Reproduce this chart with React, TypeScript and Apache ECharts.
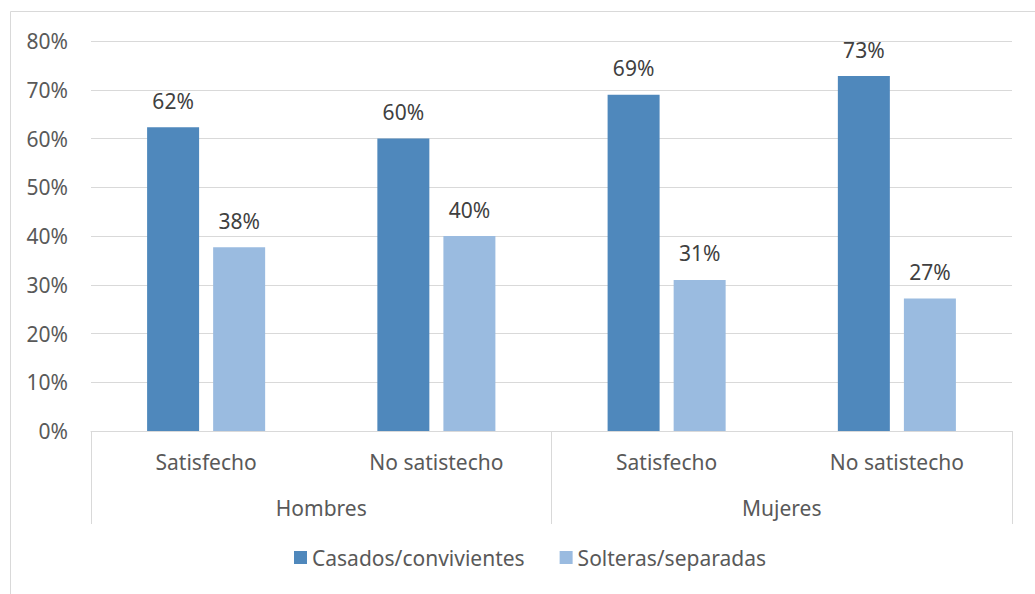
import React, { useEffect, useRef } from "react";
import * as echarts from "echarts";

const subCategories = ["Satisfecho", "No satistecho", "Satisfecho", "No satistecho"];
const groups = ["Hombres", "Mujeres"];
const casados = [62.3, 60.0, 69.0, 72.8];
const solteras = [37.7, 40.0, 31.0, 27.2];
const seriesNames = ["Casados/convivientes", "Solteras/separadas"];

export default function App() {
  const ref = useRef<HTMLDivElement>(null);
  useEffect(() => {
    if (!ref.current) return;
    const chart = echarts.init(ref.current, null, { renderer: "svg" });
    const font = "'Noto Sans', sans-serif";
    const grey = "#d9d9d9";
    const fs = 21;
    const labelOpt = {
      show: true,
      position: "top",
      distance: 16,
      color: "#404040",
      fontSize: fs,
      fontFamily: font,
      formatter: (p: any) => Math.round(p.value) + "%",
    };
    chart.setOption({
      animation: false,
      textStyle: { fontFamily: font },
      graphic: [
        {
          type: "rect",
          shape: { x: 10.5, y: 11.5, width: 1100, height: 700 },
          style: { fill: "none", stroke: grey, lineWidth: 1 },
          silent: true,
        },
      ],
      grid: { left: 91, right: 23, top: 41, bottom: 163 },
      legend: {
        left: 294,
        top: 547,
        padding: 0,
        itemWidth: 13,
        itemHeight: 13,
        itemGap: 35,
        icon: "rect",
        textStyle: { fontSize: fs, color: "#595959", fontFamily: font },
        data: seriesNames,
      },
      xAxis: [
        {
          type: "category",
          data: subCategories,
          axisLine: { show: true, lineStyle: { color: grey, width: 1 } },
          axisTick: { show: false },
          axisLabel: { margin: 20, fontSize: fs, color: "#595959", fontFamily: font, interval: 0 },
        },
        {
          type: "category",
          data: groups,
          position: "bottom",
          axisLine: { show: false },
          axisTick: { show: true, length: 93, interval: 0, lineStyle: { color: grey, width: 1 } },
          axisLabel: { margin: 66, fontSize: fs, color: "#595959", fontFamily: font, interval: 0 },
        },
      ],
      yAxis: {
        type: "value",
        min: 0,
        max: 80,
        interval: 10,
        axisLine: { show: false },
        axisTick: { show: false },
        splitLine: { lineStyle: { color: grey, width: 1 } },
        axisLabel: { formatter: "{value}%", margin: 23, fontSize: fs, color: "#595959", fontFamily: font },
      },
      series: [
        {
          name: seriesNames[0],
          type: "bar",
          xAxisIndex: 0,
          data: casados,
          barWidth: 52,
          barGap: "27%",
          itemStyle: { color: "#4f88bc" },
          label: labelOpt,
        },
        {
          name: seriesNames[1],
          type: "bar",
          xAxisIndex: 0,
          data: solteras,
          barWidth: 52,
          barGap: "27%",
          itemStyle: { color: "#9abbe0" },
          label: labelOpt,
        },
      ],
    });
    return () => chart.dispose();
  }, []);
  return (
    <div
      ref={ref}
      style={{ position: "absolute", left: 0, top: 0, width: 1035, height: 594, background: "#fff" }}
    />
  );
}
